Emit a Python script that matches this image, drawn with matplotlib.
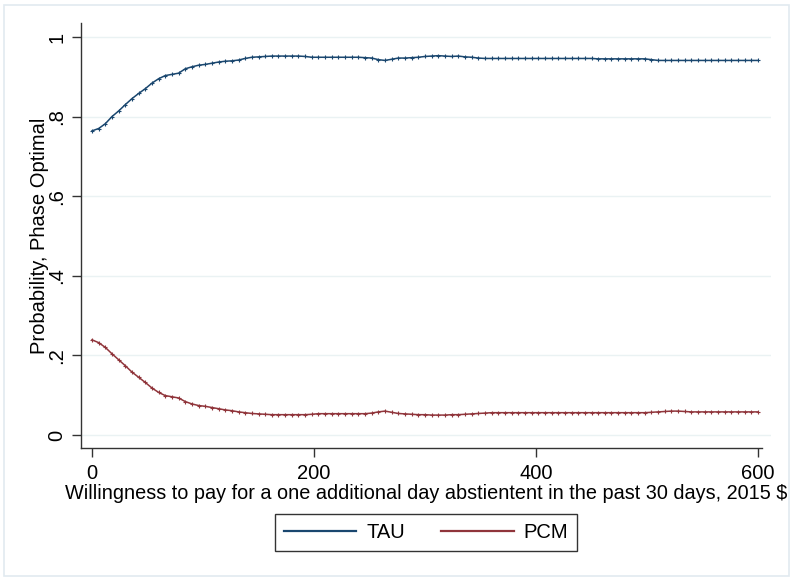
import numpy as np
import matplotlib
matplotlib.use("Agg")
import matplotlib.pyplot as plt
from matplotlib.patches import Rectangle
from matplotlib.lines import Line2D

plt.rcParams['font.family'] = ['Liberation Sans', 'DejaVu Sans']

# willingness to pay grid (2015 $)
wtp = np.arange(0, 601, 6)

tau = [
    0.764, 0.770, 0.782, 0.800, 0.814, 0.830, 0.845, 0.858, 0.870, 0.884,
    0.895, 0.903, 0.906, 0.909, 0.920, 0.925, 0.929, 0.931, 0.934, 0.937,
    0.939, 0.940, 0.942, 0.946, 0.949, 0.950, 0.951, 0.952, 0.952, 0.952,
    0.952, 0.952, 0.951, 0.949, 0.949, 0.949, 0.949, 0.949, 0.949, 0.949,
    0.949, 0.948, 0.947, 0.943, 0.941, 0.944, 0.947, 0.947, 0.948, 0.949,
    0.951, 0.952, 0.953, 0.952, 0.951, 0.952, 0.950, 0.949, 0.947, 0.946,
    0.946, 0.946, 0.946, 0.946, 0.946, 0.946, 0.946, 0.946, 0.946, 0.946,
    0.946, 0.946, 0.946, 0.946, 0.946, 0.946, 0.945, 0.945, 0.945, 0.945,
    0.945, 0.945, 0.945, 0.945, 0.943, 0.941, 0.941, 0.941, 0.941, 0.941,
    0.941, 0.941, 0.941, 0.941, 0.941, 0.941, 0.941, 0.941, 0.941, 0.941,
    0.941,
]

pcm = [
    0.239, 0.232, 0.220, 0.204, 0.189, 0.174, 0.158, 0.145, 0.132, 0.118,
    0.107, 0.099, 0.096, 0.093, 0.084, 0.078, 0.074, 0.072, 0.069, 0.066,
    0.063, 0.061, 0.058, 0.056, 0.054, 0.053, 0.052, 0.051, 0.051, 0.051,
    0.051, 0.051, 0.051, 0.052, 0.0535, 0.0535, 0.0535, 0.0535, 0.0535, 0.0535,
    0.0535, 0.0535, 0.055, 0.058, 0.060, 0.057, 0.054, 0.053, 0.052, 0.051,
    0.051, 0.050, 0.050, 0.050, 0.051, 0.051, 0.052, 0.053, 0.054, 0.055,
    0.056, 0.056, 0.056, 0.056, 0.056, 0.056, 0.056, 0.056, 0.056, 0.056,
    0.056, 0.056, 0.056, 0.056, 0.056, 0.056, 0.056, 0.056, 0.056, 0.056,
    0.056, 0.056, 0.056, 0.056, 0.057, 0.058, 0.059, 0.060, 0.060, 0.059,
    0.058, 0.058, 0.058, 0.058, 0.058, 0.058, 0.058, 0.058, 0.058, 0.058,
    0.058,
]

yticks = [0, 0.2, 0.4, 0.6, 0.8, 1.0]
ytick_labels = ["0", ".2", ".4", ".6", ".8", "1"]
xticks = [0, 200, 400, 600]

tau_color = "#1a476f"
pcm_color = "#90353b"

fig = plt.figure(figsize=(7.95, 5.8), dpi=100)
ax = fig.add_axes([0.1019, 0.2276, 0.8679, 0.7327])

# outer frame
fig.patches.append(Rectangle((0.005, 0.007), 0.988, 0.985, transform=fig.transFigure,
                             fill=False, edgecolor="#e2eaf0", linewidth=1.2))

for y in yticks:
    ax.axhline(y, color="#eaf2f3", linewidth=1.0, zorder=0)

ax.plot(wtp, tau, color=tau_color, linewidth=1.1, marker="+", markersize=3,
        markeredgewidth=0.8)
ax.plot(wtp, pcm, color=pcm_color, linewidth=1.1, marker="+", markersize=3,
        markeredgewidth=0.8)

ax.set_xlim(-9.9, 611.7)
ax.set_ylim(-0.0327, 1.035)
ax.spines['top'].set_visible(False)
ax.spines['right'].set_visible(False)
ax.spines['bottom'].set_bounds(-9.9, 604)
for s in ("left", "bottom"):
    ax.spines[s].set_color("#333333")
    ax.spines[s].set_linewidth(1.0)

ax.set_yticks(yticks)
ax.set_yticklabels(ytick_labels, rotation=90, va="center")
ax.set_xticks(xticks)
ax.tick_params(axis="both", direction="out", length=6.5, width=1.0,
               color="#333333", labelsize=14.5)
ax.tick_params(axis="y", pad=4)
ax.tick_params(axis="x", pad=5)

ax.set_ylabel("Probability, Phase Optimal", fontsize=14.5, labelpad=-1)
ax.set_xlabel("Willingness to pay for a one additional day abstientent in the past 30 days, 2015 $",
              fontsize=14.3, labelpad=1)

handles = [Line2D([], [], color=tau_color, linewidth=1.6),
           Line2D([], [], color=pcm_color, linewidth=1.6)]
leg = ax.legend(handles, ["TAU", "PCM"], loc="center", bbox_to_anchor=(0.5, -0.198),
                ncol=2, fontsize=14.5, frameon=True, fancybox=False, handlelength=3.6,
                columnspacing=1.8, borderpad=0.45, handletextpad=0.5)
leg.get_frame().set_edgecolor("black")
leg.get_frame().set_linewidth(1.0)

fig.savefig("out.png", dpi=100)
